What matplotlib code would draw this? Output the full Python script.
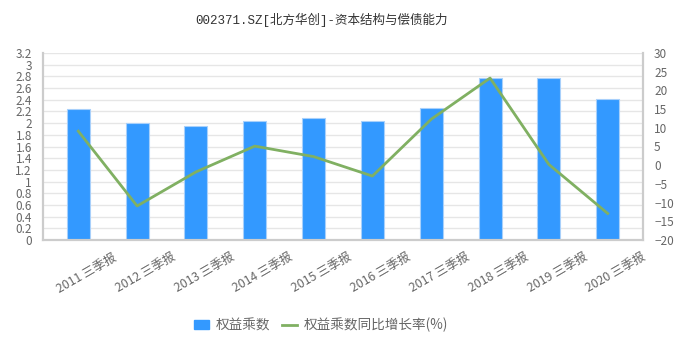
import matplotlib
matplotlib.use("Agg")
import matplotlib.pyplot as plt
from matplotlib.patches import Patch
from matplotlib.lines import Line2D
from matplotlib.transforms import ScaledTranslation

plt.rcParams["font.family"] = ["Noto Sans CJK SC", "DejaVu Sans"]

years = ["2011", "2012", "2013", "2014", "2015", "2016", "2017", "2018", "2019", "2020"]
labels = [y + " 三季报" for y in years]
equity_mult = [2.24, 2.00, 1.95, 2.04, 2.09, 2.03, 2.26, 2.78, 2.77, 2.42]
yoy_growth = [9.1, -10.9, -1.8, 5.1, 2.3, -2.9, 12.3, 23.3, 0.2, -12.9]
left_ticks = [0, 0.2, 0.4, 0.6, 0.8, 1, 1.2, 1.4, 1.6, 1.8, 2, 2.2, 2.4, 2.6, 2.8, 3, 3.2]
right_ticks = [-20, -15, -10, -5, 0, 5, 10, 15, 20, 25, 30]

bar_color = "#3399ff"
line_color = "#80b062"
text_color = "#666666"
axis_color = "#cccccc"

fig = plt.figure(figsize=(6.84, 3.51), dpi=100)
ax = fig.add_axes([43 / 684, 111 / 351, 600 / 684, 187 / 351])
ax2 = ax.twinx()

x = list(range(len(labels)))
ax.bar(x, equity_mult, width=0.39, color=bar_color, edgecolor="#a8d0fb",
       linewidth=0.8, zorder=2)
ax2.plot(x, yoy_growth, color=line_color, linewidth=2, zorder=3)

ax.set_xlim(-0.6, 9.6)
ax.set_ylim(0, 3.2)
ax.set_yticks(left_ticks)
ax.set_yticklabels([("%g" % t) for t in left_ticks])
ax2.set_ylim(-20, 30)
ax2.set_yticks(right_ticks)

ax.set_xticks(x)
ax.set_xticklabels(labels, rotation=30, ha="right", rotation_mode="anchor")

ax.grid(axis="y", color="#e6e6e6", linewidth=1, zorder=0)
ax.set_axisbelow(True)

for a in (ax, ax2):
    a.tick_params(length=0, labelsize=8.5, colors=text_color)
    a.spines["top"].set_visible(False)
    for s in ("left", "right", "bottom"):
        a.spines[s].set_color(axis_color)
        a.spines[s].set_linewidth(1.5)
ax.tick_params(axis="y", pad=8)
ax2.tick_params(axis="y", pad=8)
ax.tick_params(axis="x", pad=4, labelsize=8.8)

# the rotated labels end to the right of their bar, as in the original
shift = ScaledTranslation(34 / 100, -5 / 100, fig.dpi_scale_trans)
for lbl in ax.get_xticklabels():
    lbl.set_transform(lbl.get_transform() + shift)

fig.text(322 / 684, 1 - 20 / 351, "002371.SZ[北方华创]-资本结构与偿债能力",
         ha="center", va="center", fontsize=9, color="#333333",
         family=["Liberation Mono", "Noto Sans CJK SC"])

handles = [Patch(facecolor=bar_color, edgecolor=bar_color, label="权益乘数"),
           Line2D([0], [0], color=line_color, linewidth=2, label="权益乘数同比增长率(%)")]
fig.legend(handles=handles, loc="center", bbox_to_anchor=(321 / 684, 26 / 351),
           ncol=2, frameon=False, fontsize=9.8, labelcolor=text_color,
           handlelength=1.1, handletextpad=0.5, columnspacing=0.9)

fig.savefig("out.png", dpi=100)
